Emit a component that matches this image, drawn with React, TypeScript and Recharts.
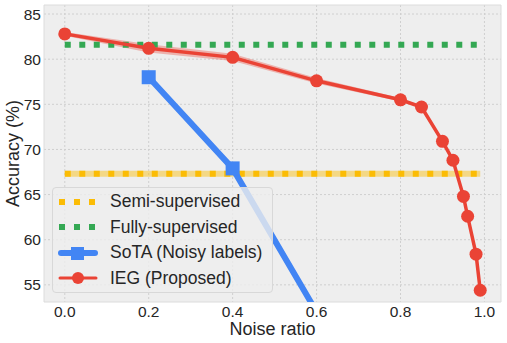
import {
  ComposedChart,
  Line,
  Area,
  XAxis,
  YAxis,
  CartesianGrid,
  ReferenceArea,
} from "recharts";

// noise ratio (x) for the proposed method
const iegNoise = [0, 0.2, 0.4, 0.6, 0.8, 0.85, 0.9, 0.925, 0.95, 0.96, 0.98, 0.99];
const iegAcc = [82.8, 81.2, 80.2, 77.6, 75.5, 74.7, 70.9, 68.8, 64.8, 62.6, 58.4, 54.4];
const iegStd = [0.2, 0.45, 0.4, 0.3, 0.2, 0.15, 0.2, 0.2, 0.3, 0.3, 0.2, 0.2];

const sotaNoise = [0.2, 0.4, 0.6];
const sotaAcc = [78.0, 67.9, 52.0];

const baselineNoise = [0, 0.99];
const semiAcc = 67.3;
const fullyAcc = 81.6;

const xTicks = [0, 0.2, 0.4, 0.6, 0.8, 1.0];
const yTicks = [55, 60, 65, 70, 75, 80, 85];

const RED = "#EA4335";
const BLUE = "#4285F4";
const GREEN = "#34A853";
const YELLOW = "#FBBC05";
const FONT = "'Liberation Sans', Arial, sans-serif";
const INK = "#262626";

const iegData = iegNoise.map((x, i) => ({
  x,
  acc: iegAcc[i],
  band: [iegAcc[i] - iegStd[i], iegAcc[i] + iegStd[i]],
}));
const sotaData = sotaNoise.map((x, i) => ({ x, acc: sotaAcc[i] }));
const semiData = baselineNoise.map((x) => ({ x, acc: semiAcc }));
const fullyData = baselineNoise.map((x) => ({ x, acc: fullyAcc }));

function SquareDot(props: { cx?: number; cy?: number; index?: number }) {
  const { cx, cy, index } = props;
  if (cx == null || cy == null) return null;
  return <rect key={index} x={cx - 7} y={cy - 7} width={14} height={14} fill={BLUE} />;
}

function YLabel(props: { viewBox?: { x: number; y: number; width: number; height: number } }) {
  const vb = props.viewBox;
  if (!vb) return null;
  const cy = vb.y + vb.height / 2;
  return (
    <text x={19} y={cy} transform={`rotate(-90, 19, ${cy})`} textAnchor="middle" fontSize={18} fill={INK} fontFamily={FONT}>
      Accuracy (%)
    </text>
  );
}

function XLabel(props: { viewBox?: { x: number; y: number; width: number; height: number } }) {
  const vb = props.viewBox;
  if (!vb) return null;
  return (
    <text x={vb.x + vb.width / 2} y={335} textAnchor="middle" fontSize={18} fill={INK} fontFamily={FONT}>
      Noise ratio
    </text>
  );
}

function LegendBox() {
  const row = { display: "flex", alignItems: "center", height: 25.5 } as const;
  const handle = { width: 40, marginRight: 12, height: 16 } as const;
  return (
    <div
      style={{
        position: "absolute",
        left: 52,
        top: 187,
        width: 221,
        height: 106,
        boxSizing: "border-box",
        padding: "1px 0 0 5px",
        background: "rgba(238,238,238,0.8)",
        border: "1px solid #d8d8d8",
        borderRadius: 4,
        fontFamily: FONT,
        fontSize: 17.5,
        color: INK,
      }}
    >
      <div style={row}>
        <svg style={handle} width={40} height={16}>
          <line x1={1} y1={8} x2={40} y2={8} stroke={YELLOW} strokeWidth={6} strokeDasharray="6 9" />
        </svg>
        Semi-supervised
      </div>
      <div style={row}>
        <svg style={handle} width={40} height={16}>
          <line x1={1} y1={8} x2={40} y2={8} stroke={GREEN} strokeWidth={6} strokeDasharray="6 9" />
        </svg>
        Fully-supervised
      </div>
      <div style={row}>
        <svg style={handle} width={40} height={16}>
          <line x1={3} y1={8} x2={37} y2={8} stroke={BLUE} strokeWidth={6} strokeLinecap="round" />
          <rect x={13} y={2} width={13} height={13} fill={BLUE} />
        </svg>
        SoTA (Noisy labels)
      </div>
      <div style={row}>
        <svg style={handle} width={40} height={16}>
          <line x1={2} y1={8} x2={38} y2={8} stroke={RED} strokeWidth={3} strokeLinecap="round" />
          <circle cx={20} cy={8} r={6} fill={RED} />
        </svg>
        IEG (Proposed)
      </div>
    </div>
  );
}

export default function App() {
  return (
    <div style={{ position: "absolute", left: 0, top: 0, width: 507, height: 343, background: "#fff" }}>
      <ComposedChart
        width={507}
        height={343}
        margin={{ top: 5, right: 6, left: 0, bottom: 0 }}
      >
        <CartesianGrid
          fill="#EEEEEE"
          stroke="#cfcfcf"
          strokeDasharray="2 2"
          verticalValues={xTicks}
          horizontalValues={yTicks}
        />
        <XAxis
          type="number"
          dataKey="x"
          domain={[-0.0495, 1.0395]}
          ticks={xTicks}
          tickFormatter={(v: number) => v.toFixed(1)}
          allowDataOverflow
          height={41}
          axisLine={false}
          tickLine={false}
          tickSize={0}
          tick={{ fontSize: 15.5, fill: INK, fontFamily: FONT }}
          tickMargin={4}
          label={<XLabel />}
        />
        <YAxis
          type="number"
          domain={[53.1, 86]}
          ticks={yTicks}
          allowDataOverflow
          width={44}
          axisLine={false}
          tickLine={false}
          tickSize={0}
          tick={{ fontSize: 15.5, fill: INK, fontFamily: FONT }}
          tickMargin={3}
          label={<YLabel />}
        />
        <ReferenceArea x1={-0.0495} x2={1.0395} y1={53.1} y2={86} fill="none" stroke="#dcdcdc" strokeWidth={1} ifOverflow="visible" />
        <Line
          data={semiData}
          dataKey="acc"
          stroke={YELLOW}
          strokeOpacity={0.45}
          strokeWidth={6}
          dot={false}
          isAnimationActive={false}
        />
        <Line
          data={semiData}
          dataKey="acc"
          stroke={YELLOW}
          strokeWidth={6}
          strokeDasharray="6 8.5"
          dot={false}
          isAnimationActive={false}
        />
        <Line
          data={fullyData}
          dataKey="acc"
          stroke={GREEN}
          strokeWidth={6}
          strokeDasharray="6 8.5"
          dot={false}
          isAnimationActive={false}
        />
        <Line
          data={sotaData}
          dataKey="acc"
          stroke={BLUE}
          strokeWidth={6}
          dot={<SquareDot />}
          isAnimationActive={false}
        />
        <Area
          data={iegData}
          dataKey="band"
          stroke="none"
          fill={RED}
          fillOpacity={0.35}
          isAnimationActive={false}
        />
        <Line
          data={iegData}
          dataKey="acc"
          stroke={RED}
          strokeWidth={3.5}
          dot={{ r: 6.5, fill: RED, stroke: RED, strokeWidth: 0 }}
          isAnimationActive={false}
        />
      </ComposedChart>
      <LegendBox />
    </div>
  );
}
